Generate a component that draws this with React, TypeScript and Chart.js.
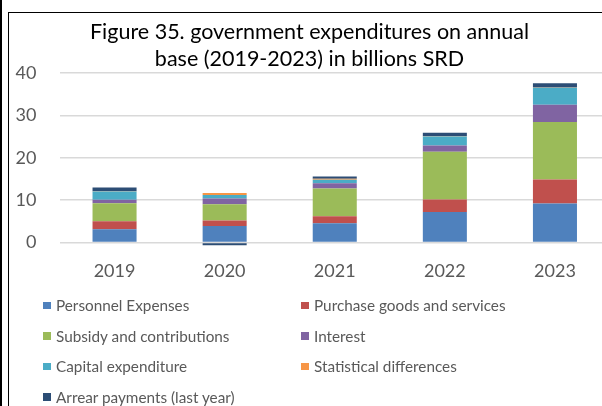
import React, { useEffect, useRef } from "react";
import { Chart, registerables } from "chart.js";

Chart.register(...registerables);

const categories = ["2019", "2020", "2021", "2022", "2023"];
const personnel = [3.1, 3.9, 4.5, 7.2, 9.2];
const purchase = [1.9, 1.3, 1.65, 2.95, 5.65];
const subsidy = [4.25, 3.8, 6.6, 11.25, 13.6];
const interest = [0.8, 1.4, 1.2, 1.5, 4.1];
const capital = [2.0, 0.8, 0.85, 2.1, 4.0];
const statistical = [0.05, 0.5, 0.25, 0.1, 0.05];
const arrear = [0.9, -0.7, 0.5, 0.8, 1.0];
const yTicks = [0, 10, 20, 30, 40];
const titleLines = ["Figure 35. government expenditures on annual", "base (2019-2023) in billions SRD"];

const seriesNames = [
  "Personnel Expenses",
  "Purchase goods and services",
  "Subsidy and contributions",
  "Interest",
  "Capital expenditure",
  "Statistical differences",
  "Arrear payments (last year)",
];
const seriesColors = ["#4f81bd", "#c0504d", "#9bbb59", "#8064a2", "#4bacc6", "#f79646", "#2c4d75"];
const seriesData = [personnel, purchase, subsidy, interest, capital, statistical, arrear];

const FONT = "Lato, 'Open Sans', sans-serif";

export default function App() {
  const ref = useRef<HTMLCanvasElement | null>(null);

  useEffect(() => {
    if (!ref.current) return;
    const chart = new Chart(ref.current, {
      type: "bar",
      data: {
        labels: categories,
        datasets: seriesNames.map((name, i) => ({
          label: name,
          data: seriesData[i],
          backgroundColor: seriesColors[i],
          borderWidth: 0,
          barPercentage: 0.4,
          categoryPercentage: 1,
          clip: false as any,
        })),
      },
      options: {
        animation: false,
        responsive: false,
        maintainAspectRatio: false,
        layout: { padding: 0 },
        plugins: {
          legend: { display: false },
          tooltip: { enabled: false },
          title: {
            display: true,
            text: titleLines,
            color: "#000000",
            font: { family: FONT, size: 21.5, weight: "normal", lineHeight: 1.27 },
            padding: { top: 5, bottom: 0.5 },
          },
        },
        scales: {
          x: {
            stacked: true,
            grid: { display: false },
            border: { display: false },
            ticks: { color: "#595959", font: { family: FONT, size: 18 }, padding: 9.5 },
          },
          y: {
            stacked: true,
            min: 0,
            max: 40,
            afterBuildTicks: (s: any) => {
              s.ticks = yTicks.map((v) => ({ value: v }));
            },
            afterFit: (s: any) => {
              s.width = 50.5;
            },
            grid: { color: "#d9d9d9", lineWidth: 1.5, drawTicks: false },
            border: { display: false },
            ticks: { color: "#595959", font: { family: FONT, size: 18 }, padding: 23 },
          },
        },
      },
    });
    return () => chart.destroy();
  }, []);

  return (
    <div
      style={{
        position: "fixed",
        left: 0,
        top: 0,
        width: 602,
        height: 406,
        overflow: "hidden",
        background: "#ffffff",
      }}
    >
      <div style={{ position: "absolute", left: 0, top: 0, width: 2, height: 406, background: "#000" }} />
      <div
        style={{
          position: "absolute",
          left: 8,
          top: 12,
          width: 700,
          height: 500,
          borderLeft: "1.5px solid #000",
          borderTop: "1.5px solid #000",
        }}
      />
      <canvas
        ref={ref}
        width={601}
        height={278}
        style={{ position: "absolute", left: 9, top: 13, width: 601, height: 278 }}
      />
      <div
        style={{
          position: "absolute",
          left: 43,
          top: 290,
          width: 560,
          display: "grid",
          gridTemplateColumns: "258px 300px",
          gridAutoRows: "30.6px",
          fontFamily: FONT,
          fontSize: 15.3,
          color: "#595959",
        }}
      >
        {seriesNames.map((name, i) => (
          <div key={name} style={{ display: "flex", alignItems: "center", whiteSpace: "nowrap" }}>
            <span
              style={{
                display: "inline-block",
                width: 7.5,
                height: 7.5,
                background: seriesColors[i],
                marginRight: 5.5,
              }}
            />
            <span>{name}</span>
          </div>
        ))}
      </div>
    </div>
  );
}
